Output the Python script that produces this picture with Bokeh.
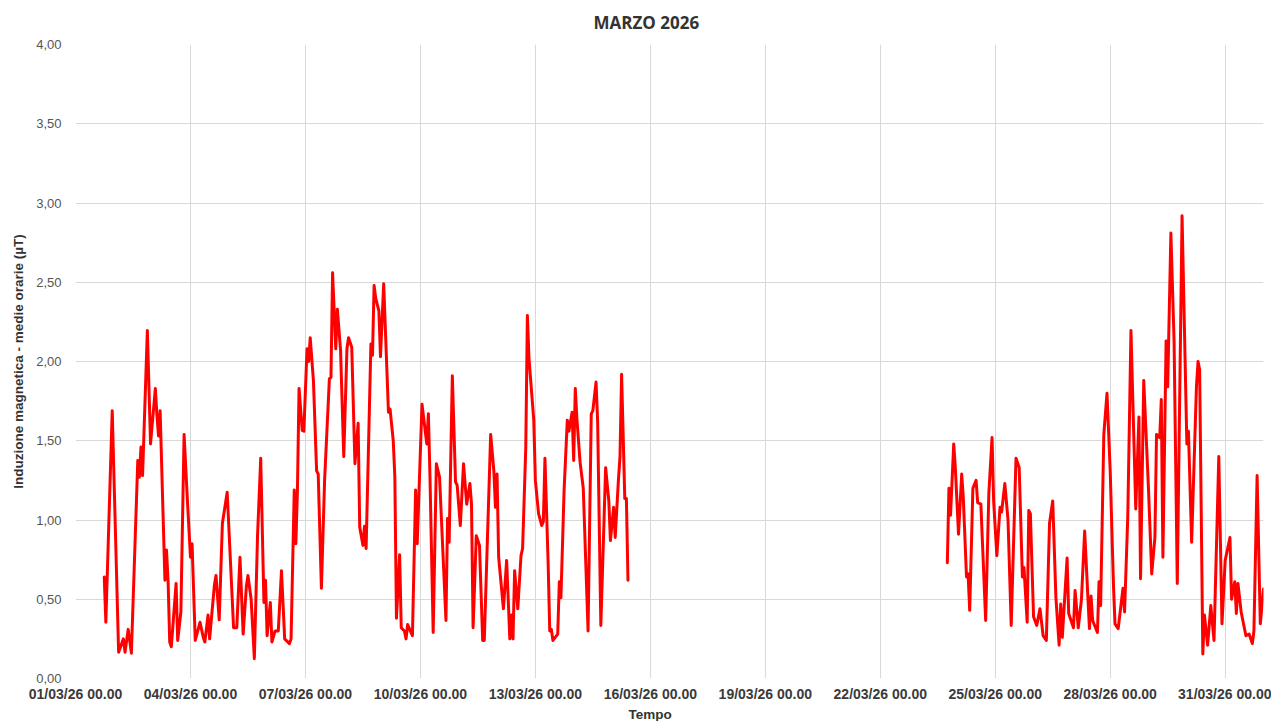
import pandas as pd
from bokeh.plotting import figure
from bokeh.models import FixedTicker, DatetimeTickFormatter, CustomJSTickFormatter, Range1d, Title
from bokeh.embed import file_html
from bokeh.resources import INLINE

# ---- data (hours from 01/03/2026 00:00, hourly mean magnetic induction in µT) ----
seg1_hours = [18, 19, 23, 27, 30, 31, 33, 35, 39, 40, 41, 42, 45, 47, 50, 51, 52, 53, 56, 57,
              58, 59, 60, 63, 64, 66, 68, 70, 72, 73, 75, 78, 80, 81, 83, 84, 87, 88, 90, 92,
              95, 99, 101, 103, 105, 107, 108, 110, 112, 114, 116, 118, 119, 120, 122, 123, 125, 127, 129, 131,
              134, 135, 137, 138, 139, 140, 142, 143, 145, 146, 147, 149, 151, 152, 154, 156, 159, 160, 161, 163,
              164, 166, 168, 170, 171, 173, 175, 177, 178, 180, 181, 182, 185, 186, 187, 188, 190, 191, 193, 196,
              197, 199, 200, 201, 203, 204, 206, 207, 208, 211, 213, 214, 217, 220, 221, 222, 224, 226, 228, 232,
              233, 234, 236, 238, 239, 241, 243, 245, 247, 248, 249, 251, 253, 255, 256, 260, 262, 263, 264, 265,
              268, 270, 272, 273, 274, 275, 277, 279, 280, 282, 283, 284, 287, 288, 290, 292, 293, 294, 296, 297,
              298, 299, 302, 303, 304, 306, 308, 309, 311, 312, 313, 314, 316, 318, 321, 323, 324, 326, 327, 329,
              332, 334, 335, 337, 338, 340, 341, 342, 344, 345, 346]
seg1_values = [0.64, 0.355, 1.69, 0.166, 0.25, 0.166, 0.31, 0.16, 1.375, 1.27, 1.46, 1.28, 2.195, 1.48, 1.83, 1.66, 1.53, 1.69, 0.62, 0.81,
               0.61, 0.23, 0.20, 0.60, 0.24, 0.42, 1.54, 1.14, 0.765, 0.85, 0.24, 0.355, 0.26, 0.23, 0.40, 0.25, 0.59, 0.65, 0.37, 0.98,
               1.175, 0.32, 0.32, 0.765, 0.28, 0.58, 0.65, 0.50, 0.125, 0.90, 1.39, 0.48, 0.62, 0.27, 0.48, 0.23, 0.30, 0.30, 0.68, 0.25,
               0.22, 0.25, 1.19, 0.85, 1.19, 1.83, 1.565, 1.56, 2.08, 2.00, 2.15, 1.88, 1.31, 1.29, 0.57, 1.25, 1.89, 1.90, 2.56, 2.08,
               2.33, 2.07, 1.40, 2.08, 2.15, 2.09, 1.355, 1.61, 0.955, 0.84, 0.96, 0.82, 2.11, 2.04, 2.48, 2.40, 2.32, 2.03, 2.49, 1.68,
               1.70, 1.50, 1.27, 0.38, 0.78, 0.32, 0.30, 0.25, 0.34, 0.27, 1.19, 0.85, 1.73, 1.48, 1.67, 1.27, 0.29, 1.355, 1.27, 0.366,
               1.01, 0.86, 1.91, 1.24, 1.22, 0.965, 1.355, 1.10, 1.23, 1.10, 0.32, 0.90, 0.84, 0.24, 0.24, 1.54, 1.31, 1.08, 1.29, 0.765,
               0.44, 0.745, 0.25, 0.40, 0.25, 0.68, 0.44, 0.775, 0.82, 1.46, 2.29, 2.02, 1.63, 1.25, 1.04, 0.965, 0.99, 1.39, 0.725, 0.30,
               0.31, 0.24, 0.28, 0.61, 0.51, 1.19, 1.63, 1.56, 1.68, 1.375, 1.83, 1.64, 1.365, 1.20, 0.30, 1.67, 1.69, 1.87, 1.62, 0.335,
               1.33, 1.12, 0.87, 1.08, 0.89, 1.25, 1.40, 1.92, 1.135, 1.135, 0.62]

seg2_hours = [546, 547, 548, 550, 551, 553, 555, 556, 558, 559, 560, 562, 564, 565, 567, 570, 572, 574, 575, 577,
              579, 580, 582, 584, 586, 589, 591, 593, 594, 596, 597, 598, 600, 602, 604, 606, 608, 610, 612, 614,
              616, 617, 618, 621, 622, 625, 626, 628, 630, 632, 635, 636, 637, 640, 641, 642, 644, 646, 648, 650,
              651, 653, 656, 657, 659, 661, 663, 664, 666, 667, 669, 672, 674, 676, 677, 679, 680, 681, 683, 684,
              686, 688, 690, 693, 696, 697, 699, 702, 703, 704, 706, 707, 709, 711, 713, 716, 718, 720, 723, 724,
              726, 727, 728, 730, 733, 735, 737, 738, 740, 742, 744]
seg2_values = [0.73, 1.20, 1.03, 1.48, 1.33, 0.91, 1.29, 1.14, 0.64, 0.66, 0.43, 1.20, 1.25, 1.11, 1.10, 0.366, 1.17, 1.52, 1.12, 0.775,
               1.08, 1.05, 1.23, 1.00, 0.335, 1.39, 1.33, 0.64, 0.70, 0.355, 1.06, 1.04, 0.39, 0.335, 0.44, 0.27, 0.24, 0.98, 1.12, 0.51,
               0.21, 0.47, 0.26, 0.76, 0.41, 0.32, 0.555, 0.32, 0.50, 0.93, 0.315, 0.52, 0.366, 0.29, 0.61, 0.46, 1.54, 1.80, 1.31, 0.60,
               0.345, 0.315, 0.57, 0.42, 1.02, 2.195, 1.44, 1.07, 1.65, 0.63, 1.88, 1.19, 0.66, 0.89, 1.54, 1.52, 1.76, 0.765, 2.13, 1.84,
               2.81, 2.13, 0.60, 2.92, 1.48, 1.56, 0.86, 1.84, 2.00, 1.95, 0.155, 0.40, 0.21, 0.46, 0.24, 1.40, 0.345, 0.745, 0.89, 0.50,
               0.61, 0.41, 0.60, 0.42, 0.27, 0.28, 0.22, 0.30, 1.28, 0.345, 0.565]

tick_dates = ["2026-03-01", "2026-03-04", "2026-03-07", "2026-03-10", "2026-03-13", "2026-03-16",
              "2026-03-19", "2026-03-22", "2026-03-25", "2026-03-28", "2026-03-31"]
y_ticks = [0, 0.5, 1.0, 1.5, 2.0, 2.5, 3.0, 3.5, 4.0]

start = pd.Timestamp("2026-03-01 00:00")
end = pd.Timestamp("2026-04-01 00:00")

def to_dt(hours):
    return [start + pd.Timedelta(hours=h) for h in hours]

def ms(ts):
    return pd.Timestamp(ts).value / 1e6

p = figure(width=1271, height=721, x_axis_type="datetime",
           output_backend="svg", toolbar_location=None,
           x_range=Range1d(ms(start), ms(end)), y_range=Range1d(0, 4),
           min_border_left=75, min_border_right=8, min_border_top=44, min_border_bottom=43)

p.title = Title(text="MARZO 2026", align="left", vertical_align="top", text_font="Open Sans",
                text_font_size="17px", text_font_style="bold", text_color="#333333",
                offset=518, standoff=18)

line_kw = dict(line_color="#ff0000", line_width=3, line_join="round", line_cap="round")
p.line(to_dt(seg1_hours), seg1_values, **line_kw)
p.line(to_dt(seg2_hours), seg2_values, **line_kw)

p.xaxis.ticker = FixedTicker(ticks=[ms(d) for d in tick_dates])
fmt = "%d/%m/%y %H.%M"
p.xaxis.formatter = DatetimeTickFormatter(milliseconds=fmt, seconds=fmt, minsec=fmt, minutes=fmt,
                                          hourmin=fmt, hours=fmt, days=fmt, months=fmt, years=fmt)
p.yaxis.ticker = FixedTicker(ticks=y_ticks)
p.yaxis.formatter = CustomJSTickFormatter(code="return tick.toFixed(2).replace('.', ',');")

for ax in (p.xaxis[0], p.yaxis[0]):
    ax.axis_line_color = None
    ax.major_tick_line_color = None
    ax.minor_tick_line_color = None
    ax.major_label_text_font = "Liberation Sans"
    ax.axis_label_text_font = "Liberation Sans"
    ax.axis_label_text_font_style = "bold"
    ax.axis_label_text_color = "#333333"

p.xaxis.major_label_text_font_style = "bold"
p.xaxis.major_label_text_font_size = "14px"
p.xaxis.major_label_text_color = "#3a3a3a"
p.xaxis.major_label_standoff = 1

# x-axis title, stacked below the tick labels
p.add_layout(Title(text="Tempo", align="left", offset=553, standoff=0,
                   text_font="Liberation Sans", text_font_style="bold", text_font_size="13.5px",
                   text_color="#333333"), "below")

p.yaxis.major_label_text_font_size = "13px"
p.yaxis.major_label_text_color = "#555555"
p.yaxis.major_label_standoff = 8
p.yaxis.axis_label = "Induzione magnetica - medie orarie (µT)"
p.yaxis.axis_label_text_font_size = "13.5px"
p.yaxis.axis_label_standoff = 7

p.xgrid.grid_line_color = "#d9d9d9"
p.ygrid.grid_line_color = "#d9d9d9"
p.outline_line_color = None
p.background_fill_color = "white"
p.border_fill_color = "white"

open("out.html", "w").write(file_html(p, INLINE))
